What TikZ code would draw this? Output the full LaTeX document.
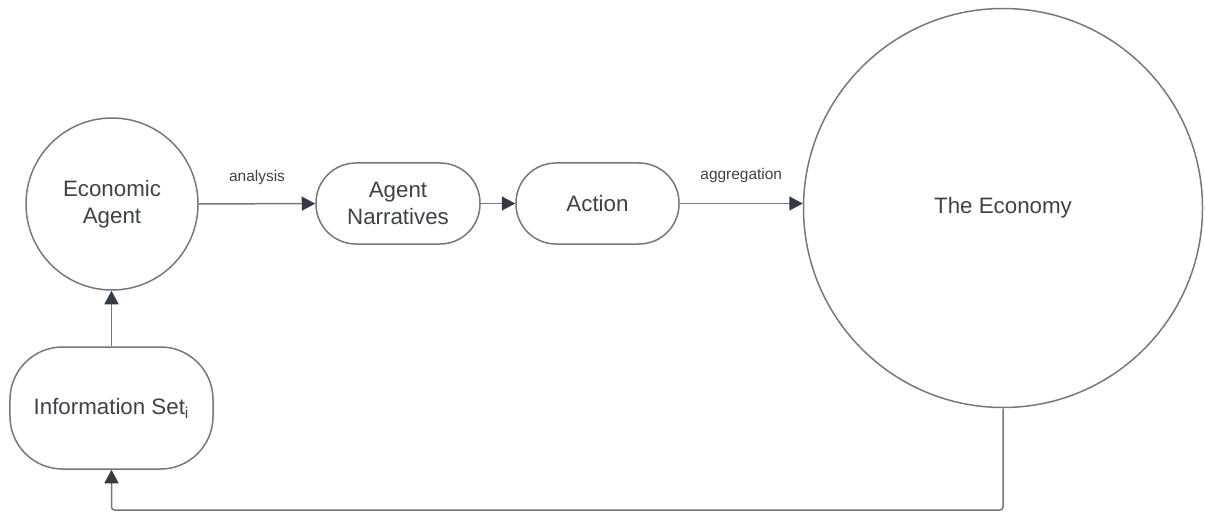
\documentclass[tikz,border=0pt]{standalone}
\usepackage{fontspec}
\setmainfont{Liberation Sans}
\usepackage{tikz}
\usetikzlibrary{arrows.meta}
\definecolor{linegray}{HTML}{74787E}
\definecolor{txtgray}{HTML}{3D4249}
\definecolor{headgray}{HTML}{343B45}

\begin{document}
\begin{tikzpicture}[
	box/.style={draw=linegray, line width=0.03cm, text=txtgray, align=center, inner sep=0pt, font=\fontsize{12.7}{15.4}\selectfont},
	rnd/.style={box, rectangle, rounded corners=#1},
	ball/.style={box, circle},
	flow/.style={draw=linegray, line width=0.03cm, -{Triangle[length=0.27cm, width=0.28cm, color=headgray]}},
	lbl/.style={text=txtgray, font=\fontsize{8.8}{10}\selectfont}
	]
				\useasboundingbox (0,0) rectangle (24.1,10.24);
				\node[ball, minimum size=3.44cm] (agent) at (2.24,6.16) {Economic\\Agent};
				\node[rnd=1.05cm, minimum width=4.06cm, minimum height=2.44cm] (info) at (2.23,2.08) {Information Set\textsubscript{i}};
				\node[rnd=0.8cm, minimum width=3.28cm, minimum height=1.62cm] (narr) at (7.96,6.17) {Agent\\Narratives};
				\node[rnd=0.8cm, minimum width=3.26cm, minimum height=1.62cm] (action) at (11.95,6.17) {Action};
				\node[ball, minimum size=7.98cm] (economy) at (20.06,6.08) {The Economy};
				\coordinate (loop) at (0,0.04);
				\draw[flow] (info.north) -- (info.north |- agent.south);
				\draw[flow] (agent) -- (narr) node[lbl, midway, yshift=0.52cm] {analysis};
				\draw[flow] (narr) -- (action);
				\draw[flow] (action.east) -- (action.east -| economy.west) node[lbl, midway, yshift=0.55cm] {aggregation};
				\draw[flow, rounded corners=0.06cm] (economy.south) -- (economy.south |- loop) -- (info.south |- loop) -- (info.south);
\end{tikzpicture}
\end{document}
